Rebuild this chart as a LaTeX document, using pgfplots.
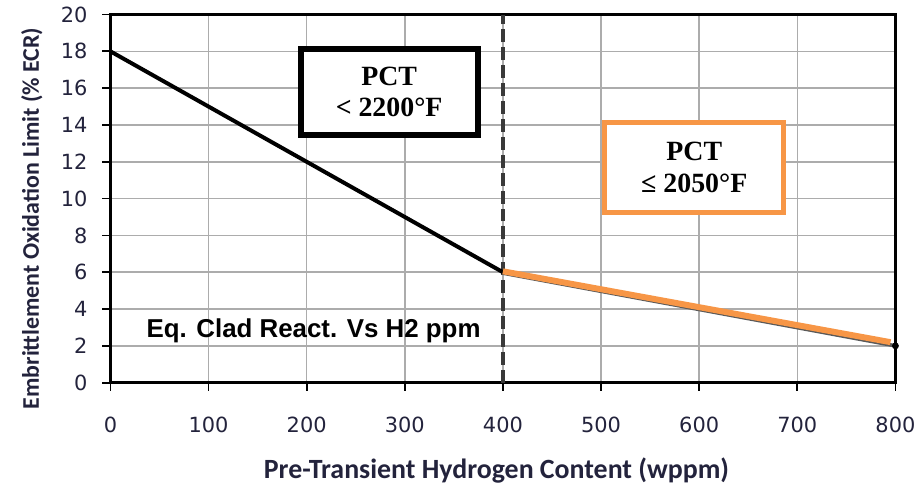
\documentclass[border=0pt]{standalone}
\usepackage{fontspec}
\usepackage{pgfplots}
\pgfplotsset{compat=1.18}
\newfontfamily\dejavu{DejaVu Sans}
\newfontfamily\carlito{Carlito}
\newfontfamily\libserif{Liberation Serif}
\newfontfamily\libsans{Liberation Sans}
\definecolor{officeorange}{RGB}{247,150,70}
\definecolor{tickcol}{RGB}{35,35,60}
\begin{document}
\begin{tikzpicture}
\begin{axis}[
    scale only axis,
    width=394.5pt, height=185pt,
    xmin=0, xmax=800, ymin=0, ymax=20,
    xtick={0,100,...,800},
    ytick={0,2,...,20},
    grid=major,
    major grid style={gray!65, line width=0.8pt},
    axis line style={black, line width=1.8pt},
    tick align=outside,
    xtick pos=bottom, ytick pos=left,
    major tick length=4pt,
    tick style={black, line width=0.9pt},
    /pgf/number format/assume math mode=true,
    ticklabel style={font=\dejavu\fontsize{10.5}{12}\selectfont, text=tickcol},
    xticklabel style={yshift=-9.5pt},
    yticklabel style={xshift=-4pt},
    clip=false,
]
% vertical divider
\addplot[gray!45!black, line width=1.6pt, dash pattern=on 6.5pt off 2.5pt]
    coordinates {(400,0) (400,20)};
% black segment
\addplot[black, line width=2pt] coordinates {(0,18) (400,6)};
% grey segment under the orange one
\addplot[gray!70!black, line width=1.8pt] coordinates {(400,5.95) (800,2)};
\addplot[officeorange, line width=3pt] coordinates {(400,6.05) (795,2.2)};
\addplot[only marks, mark=*, mark size=1.5pt, black] coordinates {(800,2)};
% boxes
\node[draw=black, line width=3pt, fill=white, minimum width=89pt, minimum height=43.5pt,
      align=center, font=\libserif\bfseries\fontsize{14}{16}\selectfont]
    at (axis cs:284,15.8) {PCT\\< 2200°F};
\node[draw=officeorange, line width=2.5pt, fill=white, minimum width=90pt, minimum height=45pt,
      align=center, font=\libserif\bfseries\fontsize{14}{16}\selectfont]
    at (axis cs:595,11.7) {PCT\\≤ 2050°F};
\node[font=\libsans\bfseries\fontsize{13}{15}\selectfont] at (axis cs:207,2.8)
    {Eq. Clad React. Vs H2 ppm};
\end{axis}
\node[rotate=90, font=\carlito\bfseries\fontsize{12}{14}\selectfont, text=tickcol]
    at (-39.5pt,82.5pt) {Embrittlement Oxidation Limit (\% ECR)};
\node[font=\carlito\bfseries\fontsize{14}{16}\selectfont, text=tickcol]
    at (194pt,-44pt) {Pre-Transient Hydrogen Content (wppm)};
\path (-55.5pt,-49pt) rectangle (405.5pt,8pt);
\end{tikzpicture}
\end{document}
